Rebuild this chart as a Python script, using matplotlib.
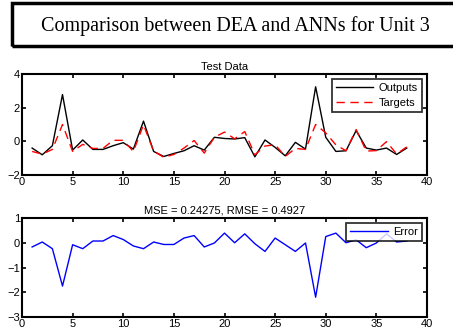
import matplotlib
matplotlib.use("Agg")
import matplotlib.pyplot as plt
from matplotlib.patches import Rectangle

# data
sample = list(range(1, 39))
outputs = [-0.40, -0.80, -0.26, 2.78, -0.52, 0.08, -0.48, -0.48, -0.26, -0.08,
           -0.46, 1.20, -0.60, -0.90, -0.72, -0.56, -0.26, -0.52, 0.24, 0.17,
           0.14, 0.22, -0.92, 0.08, -0.36, -0.86, -0.06, -0.46, 3.24, 0.24,
           -0.60, -0.56, 0.64, -0.40, -0.52, -0.40, -0.78, -0.40]
targets = [-0.60, -0.76, -0.48, 1.00, -0.60, -0.18, -0.42, -0.42, 0.06, 0.06,
           -0.60, 0.98, -0.58, -0.95, -0.78, -0.40, 0.05, -0.70, 0.24, 0.55,
           0.15, 0.58, -0.80, -0.28, -0.20, -0.90, -0.42, -0.48, 1.00, 0.50,
           -0.21, -0.56, 0.70, -0.58, -0.55, -0.02, -0.75, -0.33]
error = [-0.17, 0.03, -0.24, -1.75, -0.08, -0.24, 0.07, 0.07, 0.29, 0.13,
         -0.13, -0.24, 0.03, -0.07, -0.07, 0.19, 0.29, -0.17, -0.01, 0.39,
         0.00, 0.36, -0.04, -0.35, 0.19, -0.08, -0.35, -0.01, -2.20, 0.25,
         0.39, 0.00, 0.12, -0.20, -0.01, 0.36, 0.03, 0.07]

main_title = "Comparison between DEA and ANNs for Unit 3"
top_title = "Test Data"
bottom_title = "MSE = 0.24275, RMSE = 0.4927"

W, H = 453, 331
fig = plt.figure(figsize=(W / 100, H / 100), dpi=100)
fig.patch.set_facecolor("white")

sans = ["Liberation Sans", "DejaVu Sans"]
FS = 8


def px_axes(left, top, right, bottom):
    return fig.add_axes([left / W, 1 - bottom / H, (right - left) / W, (bottom - top) / H])


def style(ax, yticks):
    ax.set_xlim(0, 40)
    ax.set_xticks(range(0, 41, 5))
    ax.set_yticks(yticks)
    ax.set_ylim(yticks[0], yticks[-1])
    ax.tick_params(direction="in", length=3, width=1.2, top=True, right=True,
                   labelsize=FS, pad=1.5)
    for lab in ax.get_xticklabels() + ax.get_yticklabels():
        lab.set_family(sans)
    for s in ax.spines.values():
        s.set_linewidth(1.5)


def legend(ax, spacing):
    leg = ax.legend(loc="upper right", prop={"family": sans, "size": FS},
                    frameon=True, fancybox=False, borderpad=0.35, handlelength=3.4,
                    handletextpad=0.5, labelspacing=spacing, borderaxespad=0.45)
    leg.get_frame().set_edgecolor("black")
    leg.get_frame().set_linewidth(1.3)
    return leg


# title box
fig.patches.append(Rectangle((12 / W, 1 - 46 / H), 445 / W, 43 / H, transform=fig.transFigure,
                             fill=False, edgecolor="black", linewidth=2.5))
fig.patches.append(Rectangle((12 / W, 1 - 46 / H), 2 / W, 43 / H, transform=fig.transFigure,
                             facecolor="black", edgecolor="none"))
fig.text(235 / W, 1 - 26 / H, main_title, ha="center", va="center",
         fontsize=14.5, family=["Liberation Serif", "DejaVu Serif"])

ax1 = px_axes(22, 74, 427, 175)
ax1.plot(sample, outputs, color="black", lw=1.0, label="Outputs")
ax1.plot(sample, targets, color="red", lw=1.0, ls=(0, (6, 4)), label="Targets")
style(ax1, [-2, 0, 2, 4])
ax1.set_title(top_title, fontsize=FS, family=sans, pad=3)
legend(ax1, 0.45)

ax2 = px_axes(22, 218, 427, 317)
ax2.plot(sample, error, color="blue", lw=1.0, label="Error")
style(ax2, [-3, -2, -1, 0, 1])
ax2.set_title(bottom_title, fontsize=FS, family=sans, pad=3)
legend(ax2, 0.45)

fig.savefig("out.png", dpi=100, facecolor="white")
